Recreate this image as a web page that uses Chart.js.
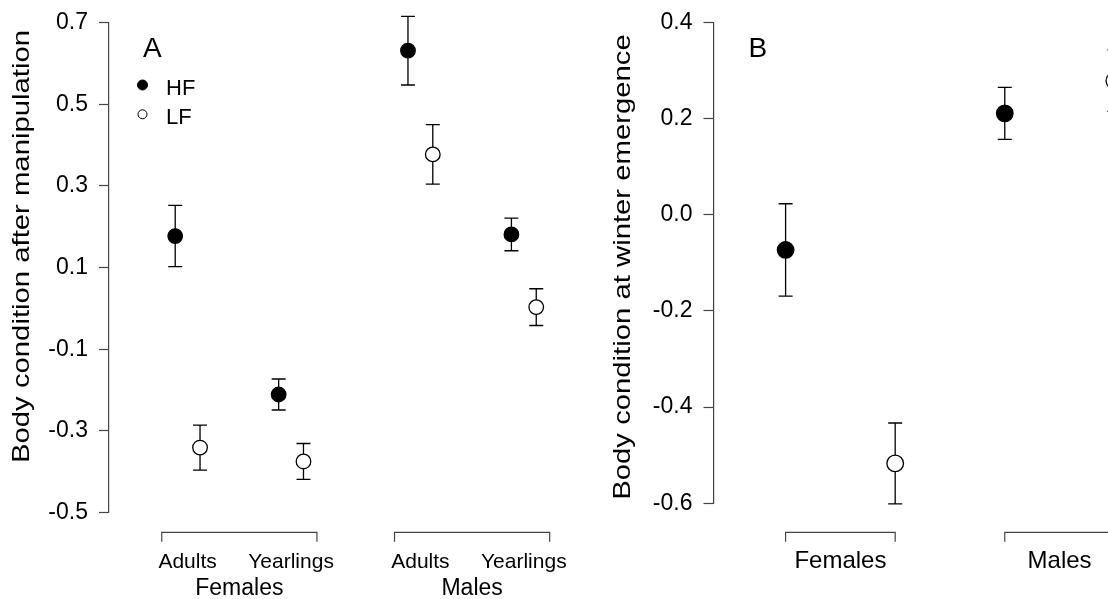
<!DOCTYPE html>
<html>
<head>
<meta charset="utf-8">
<script src="https://cdn.jsdelivr.net/npm/chart.js@4.4.1/dist/chart.umd.min.js"></script>
<style>
  body { margin: 0; background: #fff; }
  #wrap { position: relative; width: 1108px; height: 599px; overflow: hidden; background: #fff; }
  canvas { position: absolute; top: 0; }
  #chartA { left: 0; }
  #chartB { left: 560px; }
</style>
</head>
<body>
<div id="wrap">
  <canvas id="chartA" width="580" height="599"></canvas>
  <canvas id="chartB" width="548" height="599"></canvas>
</div>
<script>
// Panel A - body condition after manipulation
const posA = [1, 2, 3.25, 4.25];
const ageLabelsA = ['Adults', 'Yearlings', 'Adults', 'Yearlings'];
const sexPosA = [1.5, 3.75];
const sexLabels = ['Females', 'Males'];
const hfMeanA = [0.177, -0.211, 0.631, 0.181];
const hfSeA = [0.075, 0.038, 0.084, 0.040];
const lfMeanA = [-0.341, -0.375, 0.377, 0.003];
const lfSeA = [0.055, 0.044, 0.073, 0.045];
const yTicksA = [-0.5, -0.3, -0.1, 0.1, 0.3, 0.5, 0.7];
const bracketsA = [[0.75, 2.25], [3.0, 4.5]];

// Panel B - body condition at winter emergence
const posB = [1, 2];
const hfMeanB = [-0.073, 0.211];
const hfSeB = [0.096, 0.054];
const lfMeanB = [-0.517, 0.279];
const lfSeB = [0.084, 0.064];
const yTicksB = [-0.6, -0.4, -0.2, 0.0, 0.2, 0.4];
const bracketsB = [[0.75, 1.25], [1.75, 2.25]];

const FONT = "'Liberation Sans', Arial, Helvetica, sans-serif";
const AXIS_COLOR = '#444';

// error bars, group brackets, rotated titles, panel letter, legend
const panelDecor = {
    id: 'panelDecor',
    beforeDatasetsDraw(chart) {
        const ctx = chart.ctx;
        const xs = chart.scales.x, ys = chart.scales.y;
        ctx.save();
        ctx.strokeStyle = '#000';
        ctx.lineWidth = 1.3;
        chart.data.datasets.forEach(ds => {
            ds.data.forEach((p, i) => {
                const px = xs.getPixelForValue(p.x);
                const top = ys.getPixelForValue(p.y + ds.errors[i]);
                const bot = ys.getPixelForValue(p.y - ds.errors[i]);
                ctx.beginPath();
                ctx.moveTo(px, top); ctx.lineTo(px, bot);
                ctx.moveTo(px - 7, top); ctx.lineTo(px + 7, top);
                ctx.moveTo(px - 7, bot); ctx.lineTo(px + 7, bot);
                ctx.stroke();
            });
        });
        ctx.restore();
    },
    afterDraw(chart, args, opts) {
        const ctx = chart.ctx;
        const xs = chart.scales.x;
        ctx.save();

        // group brackets under the axis
        ctx.strokeStyle = AXIS_COLOR;
        ctx.lineWidth = 1.2;
        opts.brackets.forEach(([a, b]) => {
            const x1 = xs.getPixelForValue(a), x2 = xs.getPixelForValue(b);
            ctx.beginPath();
            ctx.moveTo(x1, opts.bracketY + 9.5);
            ctx.lineTo(x1, opts.bracketY);
            ctx.lineTo(x2, opts.bracketY);
            ctx.lineTo(x2, opts.bracketY + 9.5);
            ctx.stroke();
        });

        // y axis title (stretched along its length like the original)
        ctx.fillStyle = '#000';
        ctx.font = `24px ${FONT}`;
        ctx.textAlign = 'center';
        ctx.textBaseline = 'alphabetic';
        ctx.save();
        ctx.translate(opts.titleX, opts.titleY);
        ctx.rotate(-Math.PI / 2);
        ctx.scale(1.22, 1);
        ctx.fillText(opts.title, 0, 0);
        ctx.restore();

        // panel letter
        ctx.textAlign = 'left';
        ctx.font = `28px ${FONT}`;
        ctx.fillText(opts.tag, opts.tagX, opts.tagY);

        // legend
        if (opts.legend) {
            ctx.font = `22px ${FONT}`;
            chart.data.datasets.forEach((ds, i) => {
                const cy = opts.legend.y[i];
                ctx.beginPath();
                ctx.arc(opts.legend.x, cy, opts.legend.r[i], 0, Math.PI * 2);
                ctx.fillStyle = ds.pointBackgroundColor;
                ctx.fill();
                ctx.strokeStyle = '#000';
                ctx.lineWidth = 1;
                ctx.stroke();
                ctx.fillStyle = '#000';
                ctx.fillText(ds.label, opts.legend.textX, cy + 9.5);
            });
        }
        ctx.restore();
    }
};

function pts(pos, means, offset) {
    return pos.map((p, i) => ({ x: p + offset, y: means[i] }));
}

function yAxis(min, max, ticks, width) {
    return {
        min: min,
        max: max,
        afterBuildTicks: s => { s.ticks = ticks.map(v => ({ value: v })); },
        afterFit: s => { s.width = width; s.paddingTop = 0; s.paddingBottom = 0; },
        ticks: {
            callback: v => v.toFixed(1),
            font: { family: FONT, size: 23 },
            color: '#000',
            padding: 11
        },
        grid: { drawOnChartArea: false, tickLength: 10, tickColor: AXIS_COLOR, tickWidth: 1.2 },
        border: { color: AXIS_COLOR, width: 1.2 }
    };
}

function xAxis(min, max, pos, labels, size, padding, height, weight) {
    return {
        type: 'linear',
        position: 'bottom',
        weight: weight,
        min: min,
        max: max,
        afterBuildTicks: s => { s.ticks = pos.map(v => ({ value: v })); },
        afterFit: s => { s.height = height; s.paddingLeft = 0; s.paddingRight = 0; },
        ticks: {
            callback: (v, i) => labels[i],
            autoSkip: false,
            maxRotation: 0,
            font: { family: FONT, size: size },
            color: '#000',
            padding: padding
        },
        grid: { display: false },
        border: { display: false }
    };
}

function seriesSets(pos, hfMean, hfSe, lfMean, lfSe, offset, radius) {
    return [
        {
            label: 'HF',
            data: pts(pos, hfMean, -offset),
            errors: hfSe,
            pointRadius: radius,
            pointBackgroundColor: '#000',
            pointBorderColor: '#000',
            pointBorderWidth: 1.2,
            showLine: false,
            clip: false
        },
        {
            label: 'LF',
            data: pts(pos, lfMean, offset),
            errors: lfSe,
            pointRadius: radius,
            pointBackgroundColor: '#fff',
            pointBorderColor: '#000',
            pointBorderWidth: 1.3,
            showLine: false,
            clip: false
        }
    ];
}

new Chart(document.getElementById('chartA'), {
    type: 'scatter',
    data: { datasets: seriesSets(posA, hfMeanA, hfSeA, lfMeanA, lfSeA, 0.12, 7.3) },
    options: {
        responsive: false,
        animation: false,
        events: [],
        layout: { autoPadding: false, padding: { top: 22.5, left: 0, right: 0, bottom: 0 } },
        scales: {
            x: xAxis(0.24, 4.793, posA, ageLabelsA, 21, 29, 62, 0),
            x2: xAxis(0.24, 4.793, sexPosA, sexLabels, 23, -7.6, 24.5, 1),
            y: yAxis(-0.5, 0.7, yTicksA, 109)
        },
        plugins: {
            legend: { display: false },
            tooltip: { enabled: false },
            panelDecor: {
                brackets: bracketsA,
                bracketY: 532.3,
                title: 'Body condition after manipulation',
                titleX: 29,
                titleY: 246.5,
                tag: 'A',
                tagX: 143,
                tagY: 56.7,
                legend: { x: 142.5, textX: 166, y: [85, 114.3], r: [5, 4.5] }
            }
        }
    },
    plugins: [panelDecor]
});

new Chart(document.getElementById('chartB'), {
    type: 'scatter',
    data: { datasets: seriesSets(posB, hfMeanB, hfSeB, lfMeanB, lfSeB, 0.25, 8.3) },
    options: {
        responsive: false,
        animation: false,
        events: [],
        layout: { autoPadding: false, padding: { top: 22.5, left: 0, right: 0, bottom: 0 } },
        scales: {
            x: xAxis(0.421, 2.221, posB, sexLabels, 24, 35.8, 95.7, 0),
            y: yAxis(-0.6, 0.4, yTicksB, 153.5)
        },
        plugins: {
            legend: { display: false },
            tooltip: { enabled: false },
            panelDecor: {
                brackets: bracketsB,
                bracketY: 532.3,
                title: 'Body condition at winter emergence',
                titleX: 70,
                titleY: 267,
                tag: 'B',
                tagX: 188.4,
                tagY: 56.7,
                legend: null
            }
        }
    },
    plugins: [panelDecor]
});
</script>
</body>
</html>
